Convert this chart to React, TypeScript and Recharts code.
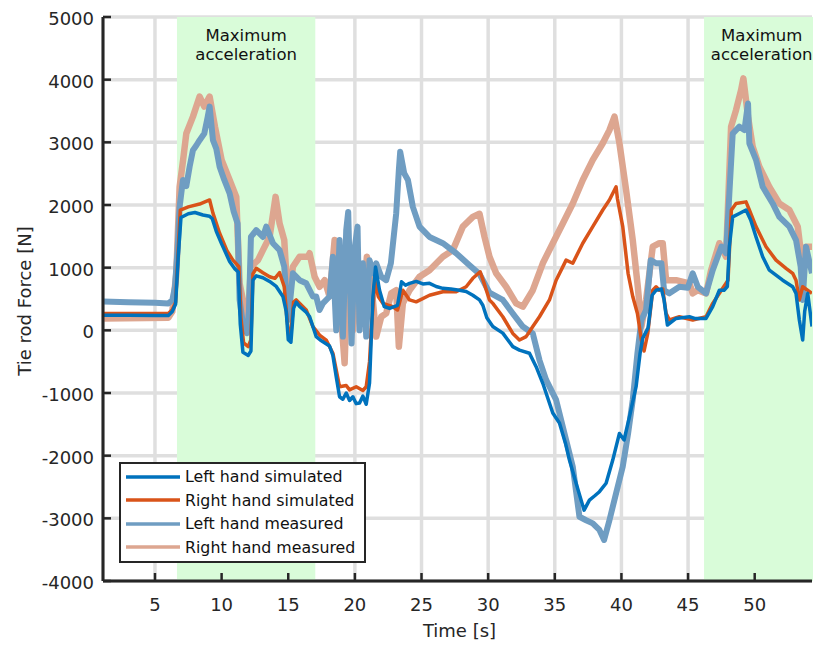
import {
  LineChart,
  Line,
  XAxis,
  YAxis,
  CartesianGrid,
  ReferenceArea,
  Legend,
} from "recharts";

const FONT = "'DejaVu Sans', 'Liberation Sans', sans-serif";
const INK = "#262626";
const GRID = "#dfdfdf";
const ZONE = "#d9fcd9";

const X_TICKS = [5, 10, 15, 20, 25, 30, 35, 40, 45, 50];
const Y_TICKS = [-4000, -3000, -2000, -1000, 0, 1000, 2000, 3000, 4000, 5000];

// shaded "Maximum acceleration" windows [start, end] in seconds
const ZONE_STARTS = [6.65, 46.2];
const ZONE_ENDS = [17.03, 54.85];

const leftSimTime = [
  1.1, 3, 5, 6, 6.3, 6.55, 6.75, 6.95, 7.5, 8, 8.6, 9.1, 9.3, 9.6, 10, 10.6, 11, 11.25, 11.4, 11.6,
  12, 12.2, 12.35, 12.6, 13.1, 13.6, 14.1, 14.6, 14.85, 15, 15.2, 15.4, 15.6, 15.85, 16.3, 16.6, 17.1,
  17.4, 18.1, 18.35, 18.6, 18.85, 19.1, 19.35, 19.6, 19.85, 20.1, 20.35, 20.6, 20.85, 21.1, 21.35,
  21.55, 21.85, 22.2, 22.6, 23.2, 23.5, 23.8, 24.1, 24.6, 25.1, 25.6, 26.1, 26.6, 27.2, 27.85, 28.35,
  28.85, 29.35, 29.6, 29.9, 30.35, 31.1, 31.85, 32.35, 33.1, 33.6, 34.1, 34.85, 35.35, 35.8, 36.1,
  36.6, 37.2, 37.6, 38, 38.35, 38.85, 39.35, 39.85, 40.2, 40.6, 41.1, 41.4, 41.6, 42, 42.3, 42.6, 43,
  43.2, 43.45, 44.1, 45.1, 45.5, 46.35, 46.85, 47.35, 47.7, 47.95, 48.1, 48.35, 48.85, 49.35, 49.7,
  50.1, 50.6, 51.1, 51.6, 52.1, 52.85, 53.1, 53.35, 53.6, 53.75, 53.98, 54.3,
];
const leftSimForce = [
  240, 240, 235, 235, 300, 420, 1200, 1800, 1860, 1880, 1840, 1820, 1780, 1580, 1380, 1100, 980, 930,
  100, -350, -400, -330, 800, 870, 840, 780, 700, 540, 300, -150, -190, 350, 450, 380, 300, 220, -100,
  -155, -250, -400, -740, -1060, -1100, -1000, -1120, -1060, -1170, -1160, -1050, -1180, -840, 540,
  1010, 640, 380, 350, 400, 776, 720, 750, 781, 740, 750, 700, 670, 660, 640, 620, 560, 485, 400, 200,
  60, -45, -260, -315, -365, -580, -845, -1320, -1480, -1800, -2070, -2440, -2870, -2710, -2640,
  -2575, -2440, -2070, -1645, -1750, -1380, -900, -365, -125, 40, 560, 640, 660, 485, 85, 190, 217,
  190, 190, 377, 640, 640, 700, 1335, 1810, 1865, 1920, 1760, 1490, 1175, 960, 880, 800, 695, 590,
  165, -155, 300, 590, 60,
];

const rightSimTime = [
  1.1, 6, 6.3, 6.55, 6.75, 6.9, 7.5, 8.35, 9.1, 9.35, 9.85, 10.4, 10.85, 11.3, 11.45, 11.65, 12, 12.2,
  12.35, 12.6, 13.1, 13.6, 14, 14.35, 14.7, 14.9, 15.05, 15.2, 15.4, 15.6, 16.35, 16.85, 17.35, 17.85,
  18.35, 18.85, 19.35, 19.6, 20.1, 20.6, 20.85, 21.1, 21.23, 21.5, 21.75, 22.1, 22.85, 23.2, 23.6,
  24.1, 24.6, 25.6, 26.6, 27.6, 28.35, 28.85, 29.4, 29.7, 30.1, 30.35, 31.1, 31.85, 32.35, 32.85,
  33.35, 33.85, 34.6, 35.1, 35.85, 36.35, 37.1, 37.85, 38.6, 39.1, 39.6, 39.7, 40.1, 40.5, 40.85, 41.2,
  41.5, 41.7, 41.98, 42.35, 42.6, 42.85, 43.1, 43.35, 43.6, 44.35, 45.35, 46.35, 46.85, 47.5, 48,
  48.25, 48.6, 49.35, 49.6, 50.1, 50.85, 51.6, 52.35, 52.85, 53.1, 53.35, 53.6, 54.3,
];
const rightSimForce = [
  270, 270, 330, 450, 1300, 1920, 1970, 2015, 2080, 1870, 1550, 1270, 1120, 1015, 200, -200, -260,
  -150, 900, 990, 920, 855, 830, 920, 696, 200, -100, -60, 450, 485, 325, 60, -75, -155, -365, -900,
  -880, -950, -900, -960, -900, -500, 0, 800, 540, 430, 377, 325, 640, 485, 455, 560, 615, 615, 695,
  830, 935, 750, 485, 430, 217, -50, -155, -100, 60, 217, 485, 800, 1120, 1070, 1390, 1655, 1920, 2080,
  2290, 2100, 1655, 910, 540, 270, -155, -330, -45, 640, 695, 640, 660, 270, 165, 217, 165, 217, 430,
  640, 800, 1920, 2025, 2050, 1920, 1655, 1335, 1120, 990, 910, 800, 485, 695, 590,
];

const leftMeasTime = [
  1.1, 3, 5, 6, 6.3, 6.5, 6.7, 6.85, 7.1, 7.35, 7.6, 7.85, 8.1, 8.35, 8.7, 8.95, 9.1, 9.35, 9.6, 9.85,
  10.2, 10.6, 10.9, 11.2, 11.35, 11.6, 11.9, 12.05, 12.2, 12.6, 13.1, 13.35, 13.85, 14.35, 14.7, 15,
  15.35, 15.85, 16.35, 16.85, 17.1, 17.35, 17.6, 18.1, 18.35, 18.6, 18.85, 19.1, 19.35, 19.5, 19.75,
  20, 20.2, 20.35, 20.6, 20.85, 21.1, 21.35, 21.6, 21.98, 22.35, 22.7, 23.1, 23.3, 23.4, 23.7, 23.98,
  24.35, 24.85, 25.6, 26.6, 27.6, 28.6, 29.35, 30.1, 31.1, 31.85, 32.6, 33.35, 33.85, 34.35, 35.1,
  35.85, 36.35, 36.85, 37.35, 37.85, 38.35, 38.7, 39.1, 39.6, 40.1, 40.5, 40.85, 41.2, 41.5, 41.85,
  42.2, 42.6, 43, 43.2, 43.6, 44.35, 44.98, 45.35, 45.73, 46.35, 46.85, 47.5, 47.85, 48.1, 48.35,
  48.85, 49.23, 49.5, 49.6, 50.1, 50.6, 51.35, 51.85, 52.6, 53.1, 53.45, 53.6, 53.85, 54.3,
];
const leftMeasForce = [
  460, 450, 440, 430, 480, 695, 1300, 1970, 2400, 2300, 2610, 2875, 2950, 3035, 3140, 3400, 3570, 3035,
  2900, 2610, 2400, 2185, 1900, 1705, 485, 100, -45, 300, 1490, 1600, 1490, 1655, 1390, 1280, 1015,
  165, 910, 800, 750, 540, 540, 325, 430, 540, 1175, 0, 1440, -100, 1600, 1890, -210, 1335, 1655, 0,
  1070, -100, 1120, 910, 1070, 855, 800, 1070, 1865, 2560, 2850, 2505, 2400, 1970, 1655, 1490, 1390,
  1230, 1040, 900, 600, 485, 270, 60, -50, -475, -790, -1110, -1750, -2175, -2975, -3030, -3080, -3185,
  -3345, -3030, -2600, -2175, -1645, -1110, -365, 165, 325, 1120, 1070, 1070, 640, 590, 695, 680, 910,
  695, 590, 960, 1335, 1230, 2185, 3140, 3250, 3195, 3620, 2985, 2720, 2290, 2025, 1810, 1655, 1440,
  1015, 485, 1335, 910,
];

const rightMeasTime = [
  1.1, 6, 6.3, 6.6, 6.85, 7.1, 7.35, 7.85, 8.35, 8.7, 9.1, 9.5, 10, 10.6, 11.1, 11.35, 11.7, 11.98,
  12.2, 12.73, 13.1, 13.6, 14.05, 14.35, 14.7, 15, 15.35, 15.85, 16.48, 16.6, 16.98, 17.35, 17.73,
  18.1, 18.48, 18.85, 19.23, 19.48, 19.85, 20.23, 20.6, 20.9, 21.23, 21.6, 21.98, 22.35, 22.73, 23.1,
  23.3, 23.6, 24.1, 24.85, 25.6, 26.6, 27.35, 28.1, 28.85, 29.35, 29.73, 30.1, 30.6, 31.35, 32.1,
  32.6, 33.35, 34.1, 34.85, 35.6, 36.35, 37.1, 37.85, 38.6, 39.1, 39.48, 39.85, 40.35, 40.85, 41.23,
  41.5, 41.85, 42.35, 42.85, 43.1, 43.35, 44.1, 45.1, 45.35, 45.73, 46.35, 46.73, 47.35, 47.85, 48.23,
  48.6, 48.98, 49.15, 49.5, 49.85, 50.35, 51.1, 51.85, 52.6, 53.23, 53.6, 53.85, 54.3,
];
const rightMeasForce = [
  190, 200, 300, 900, 2290, 2700, 3140, 3410, 3730, 3570, 3730, 3250, 2720, 2400, 2130, 750, 377, 165,
  1015, 1120, 1280, 1490, 2130, 1705, 1440, 377, 1015, 1175, 1175, 1230, 855, 695, 800, 540, 1440, 540,
  -525, 1070, 0, 800, 430, 1175, 750, -100, 217, 270, 590, 640, -260, 430, 640, 855, 960, 1175, 1280,
  1655, 1810, 1860, 1490, 1175, 910, 695, 430, 377, 640, 1070, 1390, 1705, 2025, 2400, 2720, 2985,
  3195, 3410, 2985, 2240, 1440, 695, 60, 485, 1335, 1390, 1390, 800, 800, 750, 590, 640, 590, 960,
  1390, 1175, 3250, 3515, 3835, 4020, 3410, 2930, 2610, 2290, 2025, 1920, 1655, 1015, 1335, 1335,
];

const toPoints = (time: number[], force: number[]) =>
  time.map((t, i) => ({ time: t, force: force[i] }));

// drawing order: measured underneath, simulated on top
const SERIES = [
  { key: "rightMeas", name: "Right hand measured", color: "#dda690", width: 6.5, data: toPoints(rightMeasTime, rightMeasForce) },
  { key: "leftMeas", name: "Left hand measured", color: "#6f9dc2", width: 6, data: toPoints(leftMeasTime, leftMeasForce) },
  { key: "rightSim", name: "Right hand simulated", color: "#d95319", width: 3.5, data: toPoints(rightSimTime, rightSimForce) },
  { key: "leftSim", name: "Left hand simulated", color: "#0072bd", width: 3.5, data: toPoints(leftSimTime, leftSimForce) },
];

const LEGEND_ORDER = ["leftSim", "rightSim", "leftMeas", "rightMeas"];

function XTick(props: any) {
  const { x, y, payload } = props;
  return (
    <g>
      <line x1={x} x2={x} y1={y} y2={y - 8} stroke={INK} strokeWidth={2.5} />
      <text x={x} y={y + 30} textAnchor="middle" fontSize={18} fontFamily={FONT} fill={INK}>
        {payload.value}
      </text>
    </g>
  );
}

function YTick(props: any) {
  const { x, y, payload } = props;
  return (
    <g>
      <line x1={x} x2={x + 8} y1={y} y2={y} stroke={INK} strokeWidth={2.5} />
      <text x={x - 9} y={y + 8} textAnchor="end" fontSize={18} fontFamily={FONT} fill={INK}>
        {payload.value}
      </text>
    </g>
  );
}

function ZoneLabel(props: any) {
  const { x, y, width } = props.viewBox;
  const cx = x + width / 2;
  return (
    <text textAnchor="middle" fontSize={16.5} fontFamily={FONT} fill="#111">
      <tspan x={cx} y={y + 24}>Maximum</tspan>
      <tspan x={cx} y={y + 43}>acceleration</tspan>
    </text>
  );
}

function LegendBox() {
  return (
    <div
      style={{
        width: 247,
        height: 101,
        boxSizing: "border-box",
        border: `2.5px solid ${INK}`,
        background: "#fff",
        padding: "1px 0 0 5px",
      }}
    >
      {LEGEND_ORDER.map((k) => {
        const s = SERIES.find((d) => d.key === k)!;
        return (
          <div key={k} style={{ display: "flex", alignItems: "center", height: 23.5 }}>
            <svg width={54} height={6}>
              <line x1={0} x2={54} y1={3} y2={3} stroke={s.color} strokeWidth={3.5} />
            </svg>
            <span style={{ marginLeft: 5, fontSize: 15.8, fontFamily: FONT, color: "#111", whiteSpace: "nowrap" }}>
              {s.name}
            </span>
          </div>
        );
      })}
    </div>
  );
}

export default function App() {
  return (
    <div style={{ position: "absolute", left: 0, top: 0, background: "#fff" }}>
      <LineChart width={813} height={647} margin={{ top: 17, right: 1, bottom: 0, left: 0 }}>
        {ZONE_STARTS.map((start, i) => (
          <ReferenceArea
            key={i}
            x1={start}
            x2={ZONE_ENDS[i]}
            fill={ZONE}
            fillOpacity={1}
            stroke="none"
            ifOverflow="visible"
            label={<ZoneLabel />}
          />
        ))}
        <CartesianGrid stroke={GRID} strokeWidth={3.5} />
        <XAxis
          type="number"
          dataKey="time"
          domain={[1.1, 54.3]}
          ticks={X_TICKS}
          allowDataOverflow
          height={66}
          tickSize={0}
          tickMargin={0}
          tickLine={false}
          axisLine={{ stroke: INK, strokeWidth: 3 }}
          tick={<XTick />}
          label={{
            content: (p: any) => (
              <text
                x={p.viewBox.x + p.viewBox.width / 2 + 2}
                y={637}
                textAnchor="middle"
                fontSize={18}
                fontFamily={FONT}
                fill={INK}
              >
                Time [s]
              </text>
            ),
          }}
        />
        <YAxis
          type="number"
          domain={[-4000, 5000]}
          ticks={Y_TICKS}
          allowDataOverflow
          width={103}
          tickSize={0}
          tickMargin={0}
          tickLine={false}
          axisLine={{ stroke: INK, strokeWidth: 3 }}
          tick={<YTick />}
          label={{
            content: () => (
              <text
                x={31}
                y={301}
                transform="rotate(-90 31 301)"
                textAnchor="middle"
                fontSize={18}
                fontFamily={FONT}
                fill={INK}
              >
                Tie rod Force [N]
              </text>
            ),
          }}
        />
        {SERIES.map((s) => (
          <Line
            key={s.key}
            data={s.data}
            dataKey="force"
            name={s.name}
            type="linear"
            stroke={s.color}
            strokeWidth={s.width}
            strokeLinejoin="round"
            dot={false}
            activeDot={false}
            isAnimationActive={false}
          />
        ))}
        <Legend
          layout="horizontal"
          verticalAlign="middle"
          align="center"
          wrapperStyle={{ left: 119, top: 462, width: 247, height: 101 }}
          content={() => <LegendBox />}
        />
      </LineChart>
    </div>
  );
}
